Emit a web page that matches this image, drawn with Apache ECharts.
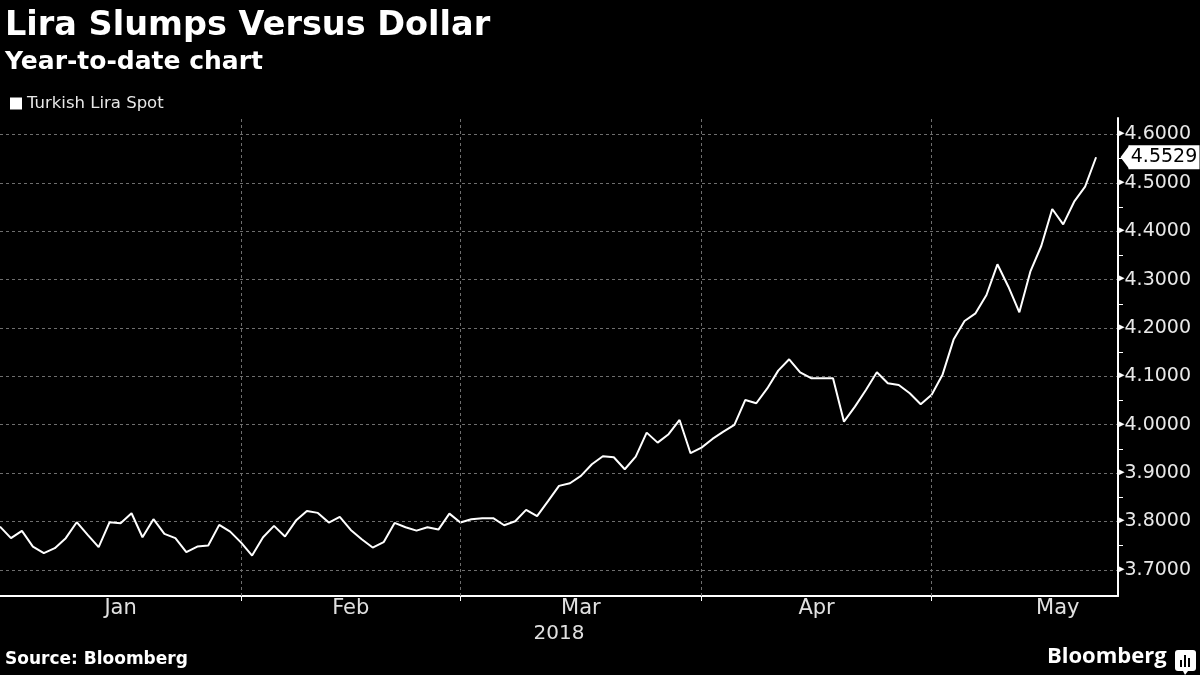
<!DOCTYPE html>
<html><head><meta charset="utf-8">
<script src="https://cdn.jsdelivr.net/npm/echarts@6/dist/echarts.min.js"></script>
<style>html,body{margin:0;padding:0;background:#000}#c{width:1200px;height:675px}</style>
</head><body><div id="c"></div>
<script>
const chartTitle = 'Lira Slumps Versus Dollar';
const chartSubtitle = 'Year-to-date chart';
const seriesName = 'Turkish Lira Spot';
const monthNames = ['Jan', 'Feb', 'Mar', 'Apr', 'May'];
const yearLabel = '2018';
const yTicks = [3.7, 3.8, 3.9, 4.0, 4.1, 4.2, 4.3, 4.4, 4.5, 4.6];
const yMinorTicks = [3.75, 3.85, 3.95, 4.05, 4.15, 4.25, 4.35, 4.45, 4.55];
// daily USD/TRY spot, trading days from 2 Jan 2018 to 22 May 2018
const values = [
  3.7895, 3.7655, 3.7806, 3.7482, 3.7345, 3.7448, 3.7655, 3.7985, 3.7723, 3.7469,
  3.7985, 3.7965, 3.8171, 3.7675, 3.8047, 3.7744, 3.7655, 3.7365, 3.7482, 3.7502,
  3.7930, 3.7791, 3.7564, 3.7296, 3.7675, 3.7909, 3.7689, 3.8019, 3.8219, 3.8178,
  3.7978, 3.8095, 3.7826, 3.7634, 3.7461, 3.7572, 3.7971, 3.7882, 3.7812, 3.7882,
  3.7833, 3.8163, 3.7978, 3.8047, 3.8068, 3.8068, 3.7923, 3.8006, 3.8240, 3.8110,
  3.8420, 3.8736, 3.8791, 3.8942, 3.9183, 3.9349, 3.9328, 3.9080, 3.9341, 3.9837,
  3.9630, 3.9804, 4.0099, 3.9411, 3.9527, 3.9707, 3.9858, 3.9996, 4.0512, 4.0444,
  4.0750, 4.1118, 4.1353, 4.1084, 4.0961, 4.0961, 4.0961, 4.0064, 4.0374, 4.0719,
  4.1084, 4.0857, 4.0822, 4.0650, 4.0424, 4.0620, 4.1040, 4.1760, 4.2145, 4.2303,
  4.2682, 4.3316, 4.2853, 4.2324, 4.3163, 4.3694, 4.4459, 4.4142, 4.4610, 4.4921,
  4.5529
];

// trading-day calendar (weekdays) used to place month boundaries
const days = [];
for (let t = Date.UTC(2018, 0, 2); t <= Date.UTC(2018, 5, 1); t += 86400000) {
  const d = new Date(t); const wd = d.getUTCDay();
  if (wd !== 0 && wd !== 6) days.push(d);
}
const monthStart = [];
days.forEach((d, i) => { const m = d.getUTCMonth(); if (monthStart[m] === undefined) monthStart[m] = i; });
const labelPos = monthNames.map((n, m) => (monthStart[m] + monthStart[m + 1]) / 2);
const boundaryPos = monthStart.slice(1, monthNames.length);
const xMax = values.length + 1;
const lastValue = values[values.length - 1];
const seriesData = values.map((v, i) => [i, v]);

const FONT = 'DejaVu Sans';
const gridLine = { color: '#6e6e6e', width: 1, type: [3, 3] };

const chart = echarts.init(document.getElementById('c'), null, { renderer: 'canvas' });
chart.setOption({
  backgroundColor: '#000',
  animation: false,
  textStyle: { fontFamily: FONT },
  title: [
    { text: chartTitle, left: 0, top: 4, textStyle: { color: '#fff', fontSize: 33.5, fontWeight: 'bold', fontFamily: FONT } },
    { text: chartSubtitle, left: 0, top: 45, textStyle: { color: '#fff', fontSize: 25, fontWeight: 'bold', fontFamily: FONT } }
  ],
  legend: {
    left: 5, top: 90, icon: 'rect', itemWidth: 12, itemHeight: 12, itemGap: 5,
    textStyle: { color: '#e8e8e8', fontSize: 16.5, fontFamily: FONT },
    data: [{ name: seriesName, itemStyle: { color: '#fff' } }]
  },
  grid: { left: 0, right: 82, top: 118, bottom: 79 },
  xAxis: {
    type: 'value', min: 0, max: xMax,
    name: yearLabel, nameLocation: 'middle', nameGap: 25,
    nameTextStyle: { color: '#e0e0e0', fontSize: 20, fontFamily: FONT },
    axisLine: { show: true, onZero: false, lineStyle: { color: '#fff', width: 2 } },
    axisTick: { show: true, customValues: boundaryPos, length: 5, lineStyle: { color: '#fff', width: 1 } },
    axisLabel: {
      customValues: labelPos, color: '#e0e0e0', fontSize: 21, margin: 2, fontFamily: FONT,
      formatter: (v) => { const k = labelPos.indexOf(v); return k >= 0 ? monthNames[k] : ''; }
    },
    splitLine: { show: false }
  },
  yAxis: [{
    type: 'value', position: 'right', min: 3.646, max: 4.634, splitNumber: 10,
    axisLine: { show: true, onZero: false, lineStyle: { color: '#fff', width: 2 } },
    axisTick: { show: false, customValues: yTicks },
    axisLabel: {
      customValues: yTicks, margin: 1, color: '#e8e8e8', fontSize: 19, fontFamily: FONT,
      formatter: (v) => '{t|\u25B8}' + v.toFixed(4),
      rich: { t: { fontSize: 11, color: '#fff', padding: [0, 0, 2, 0] } }
    },
    splitLine: { show: true, lineStyle: gridLine }
  }, {
    type: 'value', position: 'right', min: 3.646, max: 4.634,
    axisLine: { show: false, onZero: false },
    axisTick: { show: true, inside: false, length: 5, customValues: yMinorTicks, lineStyle: { color: '#fff', width: 1 } },
    axisLabel: { show: false },
    splitLine: { show: false }
  }],
  series: [{
    name: seriesName, type: 'line', data: seriesData, yAxisIndex: 0,
    showSymbol: false, symbol: 'none', color: '#fff',
    lineStyle: { color: '#fff', width: 2 },
    markLine: {
      silent: true, symbol: 'none', animation: false,
      data: boundaryPos.map(p => ({ xAxis: p, lineStyle: gridLine, label: { show: false } }))
    },
    markPoint: {
      silent: true, animation: false,
      data: [
        { coord: [xMax, lastValue], symbol: 'triangle', symbolSize: [24, 9], symbolRotate: 90, symbolOffset: [7, 0],
          itemStyle: { color: '#fff' }, label: { show: false } },
        { coord: [xMax, lastValue], symbol: 'rect', symbolSize: [71, 24], symbolOffset: [46, 0],
          itemStyle: { color: '#fff' },
          label: { show: true, position: 'inside', formatter: lastValue.toFixed(4), color: '#000', fontSize: 19, fontFamily: FONT } }
      ]
    }
  }],
  graphic: [
    { type: 'text', left: 5, top: 651, style: { text: 'Source: Bloomberg', fill: '#fff', font: 'bold 17px "DejaVu Sans"' } },
    { type: 'text', left: 1047, top: 646, style: { text: 'Bloomberg', fill: '#fff', font: 'bold 22px "Open Sans"' } },
    { type: 'group', left: 1175, top: 650, children: [
      { type: 'rect', shape: { x: 0, y: 0, width: 21, height: 21, r: 3 }, style: { fill: '#fff' } },
      { type: 'rect', shape: { x: 5, y: 10, width: 2, height: 7 }, style: { fill: '#000' } },
      { type: 'rect', shape: { x: 9, y: 5, width: 2, height: 12 }, style: { fill: '#000' } },
      { type: 'rect', shape: { x: 13, y: 8, width: 2, height: 9 }, style: { fill: '#000' } },
      { type: 'polygon', shape: { points: [[8, 21], [13, 21], [10, 25]] }, style: { fill: '#fff' } }
    ] }
  ]
});
</script>
</body></html>
